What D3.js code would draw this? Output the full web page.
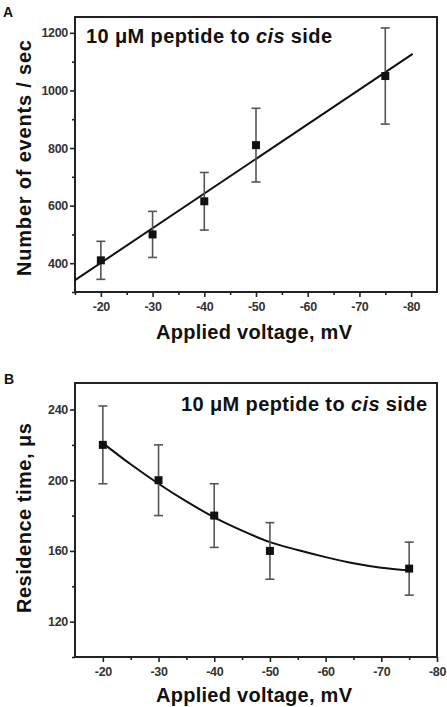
<!DOCTYPE html>
<html><head><meta charset="utf-8">
<script src="https://cdn.jsdelivr.net/npm/d3@7"></script>
<style>body{margin:0;background:#fff}svg{display:block}</style>
</head><body>
<script>
// Panel A data
const voltsA = [-20, -30, -40, -50, -75];
const eventsA = [410, 500, 615, 810, 1050];
const errA = [66, 80, 100, 128, 167];
const fitAx = [-15, -80.3];
const fitAy = [341, 1127];
const xTicksA = [-20, -30, -40, -50, -60, -70, -80];
const yTicksA = [400, 600, 800, 1000, 1200];
// Panel B data
const voltsB = [-20, -30, -40, -50, -75];
const resB = [220, 200, 180, 160, 150];
const errB = [22, 20, 18, 16, 15];
const fitBx = [-20, -25, -30, -35, -40, -45, -50, -55, -60, -65, -70, -75];
const fitBy = [221, 209, 198, 188, 179, 171.5, 165, 160.5, 156.5, 153, 150.5, 149];
const xTicksB = [-20, -30, -40, -50, -60, -70, -80];
const yTicksB = [120, 160, 200, 240];
const annotation = ["10 μM peptide to ", "cis", " side"];

const W = 447, H = 707;
const svg = d3.select("body").append("svg").attr("width", W).attr("height", H);
const FONT = "Liberation Sans, Arial, sans-serif";
const fmt = d => String(d);

function panel(cfg) {
  const g = svg.append("g");
  const x = d3.scaleLinear().domain(cfg.xd).range([cfg.l, cfg.r]);
  const y = d3.scaleLinear().domain(cfg.yd).range([cfg.b, cfg.t]);
  g.append("rect").attr("x", cfg.l).attr("y", cfg.t).attr("width", cfg.r - cfg.l).attr("height", cfg.b - cfg.t)
    .attr("fill", "none").attr("stroke", "#222").attr("stroke-width", 2);
  const xa = g.append("g").attr("transform", `translate(0,${cfg.b})`)
    .call(d3.axisBottom(x).tickValues(cfg.xt).tickSize(5).tickSizeOuter(0).tickFormat(fmt));
  const xm = g.append("g").attr("transform", `translate(0,${cfg.b})`)
    .call(d3.axisBottom(x).tickValues(cfg.xminor).tickSize(3).tickSizeOuter(0).tickFormat(""));
  const ya = g.append("g").attr("transform", `translate(${cfg.l},0)`)
    .call(d3.axisLeft(y).tickValues(cfg.yt).tickSize(5).tickSizeOuter(0).tickFormat(fmt));
  const ym = g.append("g").attr("transform", `translate(${cfg.l},0)`)
    .call(d3.axisLeft(y).tickValues(cfg.yminor).tickSize(3).tickSizeOuter(0).tickFormat(""));
  [xa, xm, ya, ym].forEach(a => {
    a.select(".domain").remove();
    a.selectAll("line").attr("stroke", "#222").attr("stroke-width", 1.6);
    a.selectAll("text").attr("font-family", FONT).attr("font-size", 12.5).attr("font-weight", "bold")
      .attr("fill", "#333").attr("letter-spacing", "-0.3");
  });
  xa.selectAll("text").attr("y", 0).attr("dy", 0).attr("transform", "translate(0,19)");
  ya.selectAll("text").attr("x", -7);
  const line = d3.line().x(d => x(d[0])).y(d => y(d[1])).curve(cfg.curve);
  g.append("path").datum(cfg.fx.map((v, i) => [v, cfg.fy[i]])).attr("d", line)
    .attr("fill", "none").attr("stroke", "#111").attr("stroke-width", 2);
  const pts = cfg.vx.map((v, i) => ({v, y: cfg.vy[i], e: cfg.ve[i]}));
  const eg = g.append("g").attr("stroke", "#555").attr("stroke-width", 1.6);
  eg.selectAll("line.v").data(pts).join("line").attr("x1", d => x(d.v)).attr("x2", d => x(d.v))
    .attr("y1", d => y(d.y - d.e)).attr("y2", d => y(d.y + d.e));
  eg.selectAll("line.t").data(pts).join("line").attr("x1", d => x(d.v) - 4.5).attr("x2", d => x(d.v) + 4.5)
    .attr("y1", d => y(d.y + d.e)).attr("y2", d => y(d.y + d.e));
  eg.selectAll("line.b").data(pts).join("line").attr("x1", d => x(d.v) - 4.5).attr("x2", d => x(d.v) + 4.5)
    .attr("y1", d => y(d.y - d.e)).attr("y2", d => y(d.y - d.e));
  g.selectAll("rect.m").data(pts).join("rect").attr("x", d => x(d.v) - 4).attr("y", d => y(d.y) - 4)
    .attr("width", 8).attr("height", 8).attr("fill", "#111");
  const t = g.append("text").attr("x", cfg.ax).attr("y", cfg.ay).attr("font-family", FONT)
    .attr("font-weight", "bold").attr("font-size", 20).attr("fill", "#111")
    .attr("textLength", 246).attr("lengthAdjust", "spacing");
  annotation.forEach((s, i) => t.append("tspan").text(s).attr("font-style", i === 1 ? "italic" : "normal"));
  g.append("text").attr("x", 156).attr("y", cfg.xly)
    .attr("font-family", FONT).attr("font-weight", "bold").attr("font-size", 20).attr("fill", "#111")
    .attr("textLength", 196).attr("lengthAdjust", "spacing")
    .text("Applied voltage, mV");
  g.append("text").attr("transform", `translate(${cfg.ylx},${cfg.yly}) rotate(-90)`)
    .attr("font-family", FONT).attr("font-weight", "bold").attr("font-size", 20).attr("fill", "#111")
    .attr("textLength", cfg.ylen).attr("lengthAdjust", "spacing")
    .text(cfg.ylabel);
  g.append("text").attr("x", cfg.px).attr("y", cfg.py).attr("font-family", FONT).attr("font-weight", "bold")
    .attr("font-size", 14).attr("fill", "#111").text(cfg.plabel);
}

panel({
  l: 75, r: 437, t: 17, b: 292, xd: [-15, -85], yd: [300, 1255],
  xt: xTicksA, xminor: [-15, -25, -35, -45, -55, -65, -75],
  yt: yTicksA, yminor: [300, 500, 700, 900, 1100],
  fx: fitAx, fy: fitAy, curve: d3.curveLinear,
  vx: voltsA, vy: eventsA, ve: errA,
  ax: 86, ay: 43,
  xly: 339, ylx: 31, yly: 276, ylen: 236, ylabel: "Number of events / sec",
  px: 3, py: 17, plabel: "A"
});
panel({
  l: 75, r: 437, t: 383, b: 657, xd: [-15, -80], yd: [100, 255],
  xt: xTicksB, xminor: [-25, -35, -45, -55, -65, -75],
  yt: yTicksB, yminor: [100, 140, 180, 220],
  fx: fitBx, fy: fitBy, curve: d3.curveMonotoneX,
  vx: voltsB, vy: resB, ve: errB,
  ax: 181, ay: 411,
  xly: 702, ylx: 31, yly: 613, ylen: 190, ylabel: "Residence time, μs",
  px: 4, py: 384, plabel: "B"
});
</script>
</body></html>
